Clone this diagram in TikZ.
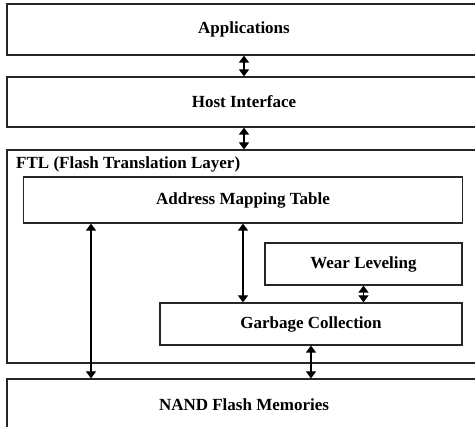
\documentclass[tikz,border=0pt]{standalone}
\usepackage{fontspec}
\setmainfont{Liberation Serif}
\usetikzlibrary{arrows.meta}
\tikzstyle{layer} = [rectangle, minimum width=474pt, text centered, draw=black!85, line width=1.2pt, font=\fontsize{17}{19}\selectfont\bfseries]
\tikzstyle{module} = [rectangle, text centered, draw=black!85, line width=1.2pt, font=\fontsize{17}{19}\selectfont\bfseries]
\tikzstyle{arrow} = [line width=1.2pt,{Triangle[length=7pt,width=10pt]}-{Triangle[length=7pt,width=10pt]}]

\begin{document}
\begin{tikzpicture}[x=1pt, y=-1pt]

    \useasboundingbox (0,0) rectangle (475,427);
    \clip (0,0) rectangle (475,427);

    \node (apps) [layer, minimum height=51pt] at (244,29.5) {Applications};
    \node (host) [layer, minimum height=50pt] at (244,102) {Host Interface};
    \node (ftl) [layer, minimum height=213pt] at (244,256.5) {};
    \node (ftlLabel) [anchor=west, font=\fontsize{17}{19}\selectfont\bfseries, inner sep=0pt] at (16,164) {FTL (Flash Translation Layer)};
    \node (amt) [module, minimum width=439pt, minimum height=46pt] at (243,200) {Address Mapping Table};
    \node (wl) [module, minimum width=197pt, minimum height=42pt] at (363.5,264) {Wear Leveling};
    \node (gc) [module, minimum width=302pt, minimum height=42pt] at (311,324) {Garbage Collection};
    \node (nand) [layer, minimum height=52pt] at (244,405) {NAND Flash Memories};

    \draw [arrow] (apps.south) -- (host.north);
    \draw [arrow] (host.south) -- (ftl.north);
    \draw [arrow] ([xshift=-152pt]amt.south) -- ([xshift=-152pt]amt.south |- nand.north);
    \draw [arrow] (amt.south) -- (amt.south |- gc.north);
    \draw [arrow] (wl.south) -- (wl.south |- gc.north);
    \draw [arrow] (gc.south) -- (gc.south |- nand.north);

\end{tikzpicture}
\end{document}
